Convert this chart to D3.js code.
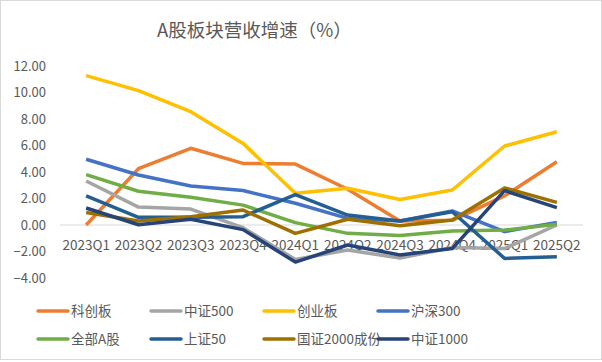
<!DOCTYPE html>
<html>
<head>
<meta charset="utf-8">
<script src="https://cdn.jsdelivr.net/npm/d3@7"></script>
<style>
  body { margin: 0; background: #fff; }
  #chart { width: 602px; height: 362px; }
  text { font-family: "Noto Sans CJK SC", "Noto Sans", sans-serif; fill: #595959; }
</style>
</head>
<body>
<div id="chart"></div>
<script>
const quarters = ["2023Q1", "2023Q2", "2023Q3", "2023Q4", "2024Q1", "2024Q2", "2024Q3", "2024Q4", "2025Q1", "2025Q2"];
const yTicks = [-4, -2, 0, 2, 4, 6, 8, 10, 12];

const seriesNames = ["科创板", "中证500", "创业板", "沪深300", "全部A股", "上证50", "国证2000成份", "中证1000"];
const seriesColors = ["#ED7D31", "#A5A5A5", "#FFC000", "#4472C4", "#70AD47", "#255E91", "#9E7000", "#264478"];

const kechuang = [0.0, 4.25, 5.79, 4.65, 4.6, 2.7, 0.3, 0.35, 2.2, 4.78];
const zz500 = [3.32, 1.35, 1.2, -0.2, -2.6, -1.89, -2.5, -1.7, -1.78, 0.0];
const chuangye = [11.27, 10.14, 8.55, 6.16, 2.39, 2.77, 1.92, 2.64, 5.96, 7.04];
const hs300 = [4.96, 3.77, 2.94, 2.6, 1.64, 0.5, 0.3, 1.06, -0.5, 0.2];
const allA = [3.8, 2.55, 2.1, 1.5, 0.18, -0.63, -0.8, -0.45, -0.38, 0.06];
const sz50 = [2.19, 0.58, 0.58, 0.63, 2.3, 0.75, 0.3, 1.0, -2.52, -2.39];
const gz2000 = [0.95, 0.3, 0.63, 1.13, -0.63, 0.43, -0.05, 0.38, 2.8, 1.71];
const zz1000 = [1.28, 0.02, 0.43, -0.35, -2.8, -1.51, -2.26, -1.78, 2.59, 1.31];

const seriesValues = [kechuang, zz500, chuangye, hs300, allA, sz50, gz2000, zz1000];

const W = 602, H = 362;
const plot = { left: 60, right: 583, top: 66, bottom: 278 };

const svg = d3.select("#chart")
    .append("svg")
    .attr("width", W)
    .attr("height", H);

// outer frame
svg.append("rect")
    .attr("x", 0.5).attr("y", 0.5)
    .attr("width", W - 1).attr("height", H - 3)
    .attr("fill", "#fff")
    .attr("stroke", "#d9d9d9");

// title
svg.append("text")
    .attr("x", 157)
    .attr("y", 37)
    .style("font-size", "18.5px")
    .text("A股板块营收增速（%）");

const x = d3.scaleBand()
    .domain(quarters)
    .range([plot.left, plot.right]);

const y = d3.scaleLinear()
    .domain([-4, 12])
    .range([plot.bottom, plot.top]);

// y labels
svg.append("g")
    .selectAll("text")
    .data(yTicks)
    .enter().append("text")
    .attr("x", 46)
    .attr("y", d => y(d) + 4.5)
    .attr("text-anchor", "end")
    .style("font-size", "13px")
    .text(d => d3.format(".2f")(d));

// zero line
svg.append("line")
    .attr("x1", plot.left).attr("x2", plot.right)
    .attr("y1", y(0)).attr("y2", y(0))
    .attr("stroke", "#d9d9d9")
    .attr("stroke-width", 1);

// x labels (next to the zero line)
svg.append("g")
    .selectAll("text")
    .data(quarters)
    .enter().append("text")
    .attr("x", d => x(d) + x.bandwidth() / 2)
    .attr("y", y(0) + 25)
    .attr("text-anchor", "middle")
    .style("font-size", "13.5px")
    .text(d => d);

const line = d3.line()
    .x((d, i) => x(quarters[i]) + x.bandwidth() / 2)
    .y(d => y(d));

svg.append("g")
    .selectAll("path")
    .data(seriesValues)
    .enter().append("path")
    .attr("fill", "none")
    .attr("stroke", (d, i) => seriesColors[i])
    .attr("stroke-width", 3.5)
    .attr("stroke-linejoin", "round")
    .attr("d", line);

// legend
const legendCols = [38, 151, 264, 378];
const legendRows = [311, 339];
const legend = svg.append("g")
    .selectAll("g")
    .data(seriesNames)
    .enter().append("g")
    .attr("transform", (d, i) => `translate(${legendCols[i % 4]},${legendRows[Math.floor(i / 4)]})`);

legend.append("line")
    .attr("x1", 0).attr("x2", 30)
    .attr("stroke", (d, i) => seriesColors[i])
    .attr("stroke-width", 3.5)
    .attr("stroke-linecap", "round");

legend.append("text")
    .attr("x", 33)
    .attr("y", 5)
    .style("font-size", "13.5px")
    .text(d => d);
</script>
</body>
</html>
